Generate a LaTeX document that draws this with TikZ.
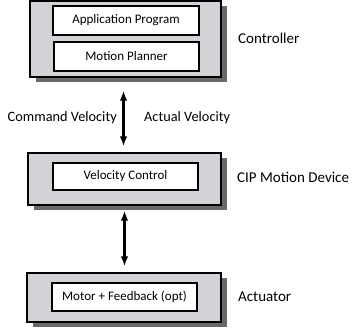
\documentclass[tikz,border=0pt]{standalone}
\usepackage{fontspec}
\setmainfont{Carlito}
\usetikzlibrary{arrows.meta,shadows}
\definecolor{boxgray}{RGB}{211,211,215}
\definecolor{shadowgray}{RGB}{105,105,105}
\tikzset{
  outerbox/.style={draw=black, line width=1.2pt, fill=boxgray, inner sep=0pt,
    general shadow={fill=shadowgray, shadow xshift=6pt, shadow yshift=-5pt}},
  innerbox/.style={draw=black, line width=1.2pt, fill=white, inner sep=0pt,
    font=\fontsize{13}{15}\selectfont},
  sidelabel/.style={inner sep=0pt, anchor=west, font=\fontsize{15}{17}\selectfont},
  flowlabel/.style={inner sep=0pt, font=\fontsize{14.3}{16}\selectfont},
  biarrow/.style={line width=2.6pt, {Latex[length=10pt,width=7.5pt]}-{Latex[length=10pt,width=7.5pt]}}
}
\begin{document}
\begin{tikzpicture}[x=1pt,y=-1pt]
\useasboundingbox (0,0) rectangle (356,328);
% Controller
\node[outerbox, minimum width=191pt, minimum height=76pt] (ctrl) at (125.5,39) {};
\node[innerbox, minimum width=146pt, minimum height=29pt] (app) at (126,20.5) {Application Program};
\node[innerbox, minimum width=145pt, minimum height=29pt] (plan) at (126.5,56.5) {Motion Planner};
\node[sidelabel] (ctrllbl) at (238,38) {Controller};
% CIP Motion Device
\node[outerbox, minimum width=193pt, minimum height=52pt] (cip) at (124.5,179) {};
\node[innerbox, minimum width=145pt, minimum height=27pt] (vel) at (125.5,176.5) {Velocity Control};
\node[sidelabel] (ciplbl) at (237,177) {CIP Motion Device};
% Actuator
\node[outerbox, minimum width=194pt, minimum height=49pt] (act) at (124,297.5) {};
\node[innerbox, minimum width=145pt, minimum height=28pt] (motor) at (124.5,297) {Motor + Feedback (opt)};
\node[sidelabel] (actlbl) at (238,297) {Actuator};
% Arrows
\draw[biarrow, shorten <=13pt, shorten >=6pt] ([xshift=-2pt]ctrl.south) -- ([xshift=-1pt]cip.north);
\draw[biarrow, shorten <=5pt, shorten >=6pt] (cip.south) -- ([xshift=0.5pt]act.north);
\node[flowlabel, anchor=east] (cmd) at (117,118) {Command Velocity};
\node[flowlabel, anchor=west] (actual) at (144,118) {Actual Velocity};
\end{tikzpicture}
\end{document}
